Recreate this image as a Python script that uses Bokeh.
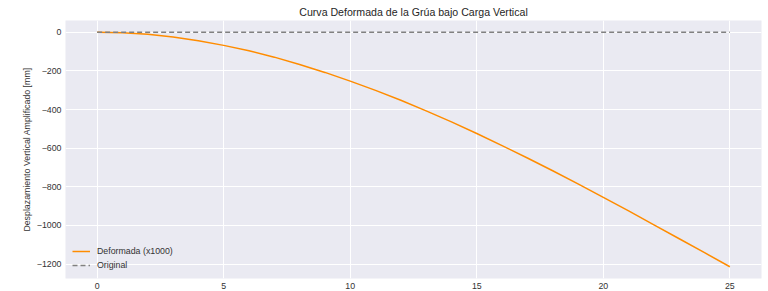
from bokeh.plotting import figure
from bokeh.models import Range1d, FixedTicker, Legend, LegendItem
from bokeh.embed import file_html
from bokeh.resources import INLINE

# Data
x_pos = [0, 1, 2, 3, 4, 5, 6, 7, 8, 9, 10, 11, 12, 13, 14, 15, 16, 17, 18, 19, 20, 21, 22, 23, 24, 25]
y_deformada = [0, -3, -11, -25, -44, -68, -96, -129, -167, -208, -253, -301, -352, -407, -464,
               -524, -587, -651, -717, -785, -855, -925, -997, -1069, -1141, -1214]
x_original = [0, 25]
y_original = [0, 0]
x_ticks = [0, 5, 10, 15, 20, 25]
y_ticks = [0, -200, -400, -600, -800, -1000, -1200]

FONT = "Liberation Sans"
TXT = "#333333"
SMALL = "8.8px"

p = figure(width=768, height=291, output_backend="svg", toolbar_location=None,
           x_range=Range1d(-1.25, 26.25), y_range=Range1d(-1274.7, 60.7),
           title="Curva Deformada de la Grúa bajo Carga Vertical",
           min_border_left=65, min_border_right=7, min_border_top=0, min_border_bottom=0)

p.background_fill_color = "#EAEAF2"
p.border_fill_color = "white"
p.outline_line_color = None

p.title.align = "center"
p.title.text_font = FONT
p.title.text_font_size = "10.6px"
p.title.text_font_style = "normal"
p.title.text_color = "#262626"
p.title.standoff = 6

for ax in (p.xaxis[0], p.yaxis[0]):
    ax.axis_line_color = None
    ax.major_tick_line_color = None
    ax.minor_tick_line_color = None
    ax.major_label_text_font = FONT
    ax.major_label_text_font_size = SMALL
    ax.major_label_text_color = TXT
    ax.major_tick_out = 0
    ax.major_tick_in = 0

p.xaxis.ticker = FixedTicker(ticks=x_ticks)
p.yaxis.ticker = FixedTicker(ticks=y_ticks)
p.xaxis.major_label_standoff = 4
p.yaxis.major_label_standoff = 4
p.yaxis.major_label_overrides = {t: str(t).replace("-", "\u2212") for t in y_ticks}
p.yaxis.axis_label = "Desplazamiento Vertical Amplificado [mm]"
p.yaxis.axis_label_text_font = FONT
p.yaxis.axis_label_text_font_size = SMALL
p.yaxis.axis_label_text_font_style = "normal"
p.yaxis.axis_label_text_color = TXT
p.yaxis.axis_label_standoff = 2

p.grid.grid_line_color = "white"
p.grid.grid_line_width = 1

r1 = p.line(x_pos, y_deformada, line_color="#FF8C00", line_width=1.5)
r2 = p.line(x_original, y_original, line_color="#808080", line_width=1.5, line_dash="5 3")

legend = Legend(items=[LegendItem(label="Deformada (x1000)", renderers=[r1]),
                       LegendItem(label="Original", renderers=[r2])],
                location="bottom_left")
legend.background_fill_alpha = 0
legend.border_line_alpha = 0
legend.label_text_font = FONT
legend.label_text_font_size = SMALL
legend.label_text_color = TXT
legend.glyph_width = 18
legend.glyph_height = 12
legend.label_height = 12
legend.spacing = 2
legend.padding = 4
legend.margin = 3
legend.label_standoff = 7
p.add_layout(legend)

open("out.html", "w").write(file_html(p, INLINE))
